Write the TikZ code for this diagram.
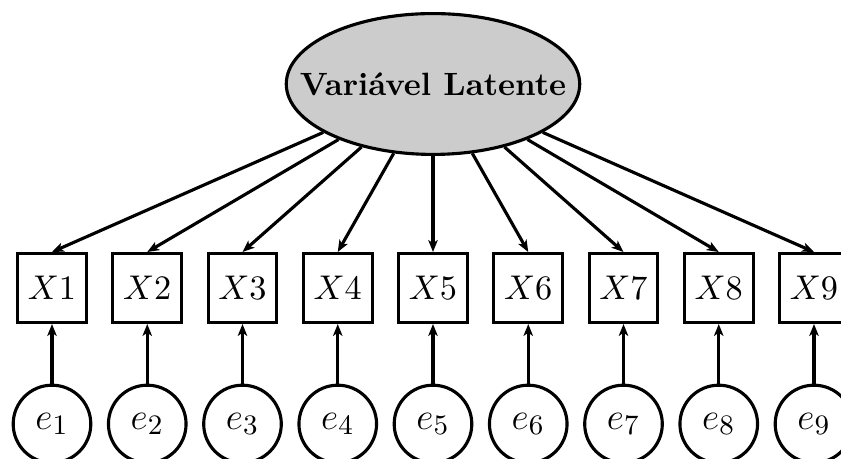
\documentclass[tikz,border=0pt]{standalone}
\usetikzlibrary{shapes.geometric,arrows.meta}
\begin{document}
\begin{tikzpicture}[x=0.3195pt,y=-0.3195pt,
  every node/.style={line width=1pt},
  latent/.style={ellipse,draw,fill=gray!40,minimum width=92pt,minimum height=45pt,inner xsep=-9.4pt,inner ysep=0pt,font=\fontsize{10.3}{12}\selectfont\bfseries},
  obs/.style={rectangle,draw,minimum size=22pt,inner sep=0pt,font=\fontsize{11}{13}\selectfont},
  err/.style={circle,draw,minimum size=24.8pt,inner sep=0pt,font=\fontsize{13.2}{15}\selectfont},
  conn/.style={line width=1pt,-{Stealth[length=3.8pt,width=3pt,inset=1pt]}}]
\useasboundingbox (0,0) rectangle (841,459);
\clip (0,0) rectangle (841,459);
\node[latent] (L) at (433,84) {Variável Latente};
\foreach \i in {1,...,9}{
  \pgfmathsetmacro{\xx}{52+95.25*(\i-1)}
  \node[obs] (x\i) at (\xx,288) {$X\i$};
  \node[err] (e\i) at (\xx,424) {$e_{\i}$};
  \draw[conn] (L) -- (x\i.north);
  \draw[conn] (e\i) -- (x\i);
}
\end{tikzpicture}
\end{document}
